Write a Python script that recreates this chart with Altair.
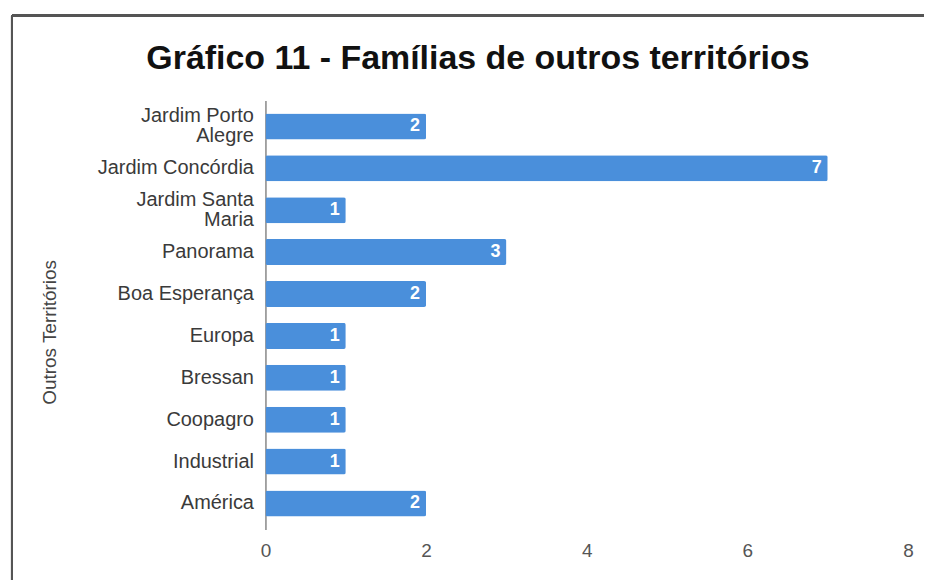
import altair as alt
import pandas as pd

categories = ["Jardim Porto Alegre", "Jardim Concórdia", "Jardim Santa Maria", "Panorama",
              "Boa Esperança", "Europa", "Bressan", "Coopagro", "Industrial", "América"]
label_lines = ["Jardim Porto\nAlegre", "Jardim Concórdia", "Jardim Santa\nMaria", "Panorama",
               "Boa Esperança", "Europa", "Bressan", "Coopagro", "Industrial", "América"]
values = [2, 7, 1, 3, 2, 1, 1, 1, 1, 2]
x_ticks = [0, 2, 4, 6, 8]

df = pd.DataFrame({"cat": label_lines, "value": values})

FONT = "Liberation Sans"
BLUE = "#4A8FDB"

y_enc = alt.Y("cat:N", sort=label_lines,
              scale=alt.Scale(paddingInner=0.38, paddingOuter=0.31),
              axis=alt.Axis(title="Outros Territórios", labelExpr="split(datum.label, '\\n')",
                            labelLineHeight=20, labelFontSize=20, labelColor="#3a3a3a",
                            labelFont=FONT, labelPadding=12, ticks=False,
                            labelOffset={"condition": {"test": "indexof(datum.value, '\\n') >= 0",
                                                       "value": -10}, "value": 0},
                            domainColor="#888888", domainWidth=1.5,
                            titleFont=FONT, titleFontSize=19, titleFontWeight="normal",
                            titleColor="#444444", titleX=-216, titleY=232,
                            titleBaseline="middle"))
x_enc = alt.X("value:Q", scale=alt.Scale(domain=[0, 8], nice=False),
              axis=alt.Axis(title=None, values=x_ticks, grid=False, domain=False, ticks=False,
                            format="d", labelFontSize=19, labelColor="#555555", labelFont=FONT,
                            labelPadding=12, labelFlush=False))

bars = alt.Chart(df).mark_bar(color=BLUE, cornerRadius=2).encode(x=x_enc, y=y_enc)
text = alt.Chart(df).mark_text(align="right", dx=-6, color="white", fontWeight="bold",
                               fontSize=18, font=FONT, baseline="middle").encode(
    x="value:Q", y=alt.Y("cat:N", sort=label_lines), text="value:Q")

border_top = alt.Chart(df).mark_rule(color="#555555", strokeWidth=2).encode(
    x=alt.value(-254), x2=alt.value(680), y=alt.value(-85))
border_left = alt.Chart(df).mark_rule(color="#555555", strokeWidth=2).encode(
    x=alt.value(-254), y=alt.value(-85), y2=alt.value(500))

chart = alt.layer(bars, text, border_top, border_left).properties(
    width=644, height=430,
    background="white",
    autosize=alt.AutoSizeParams(type="none"),
    padding={"left": 258, "top": 92, "right": 16, "bottom": 50},
    title=alt.TitleParams("Gráfico 11 - Famílias de outros territórios", anchor="middle",
                          frame="bounds", font=FONT, fontSize=34, fontWeight="bold",
                          color="#111111", offset=0, baseline="alphabetic", dy=89),
).configure_view(strokeWidth=0)

chart.save("out.html", embed_options={"renderer": "svg", "actions": False})
